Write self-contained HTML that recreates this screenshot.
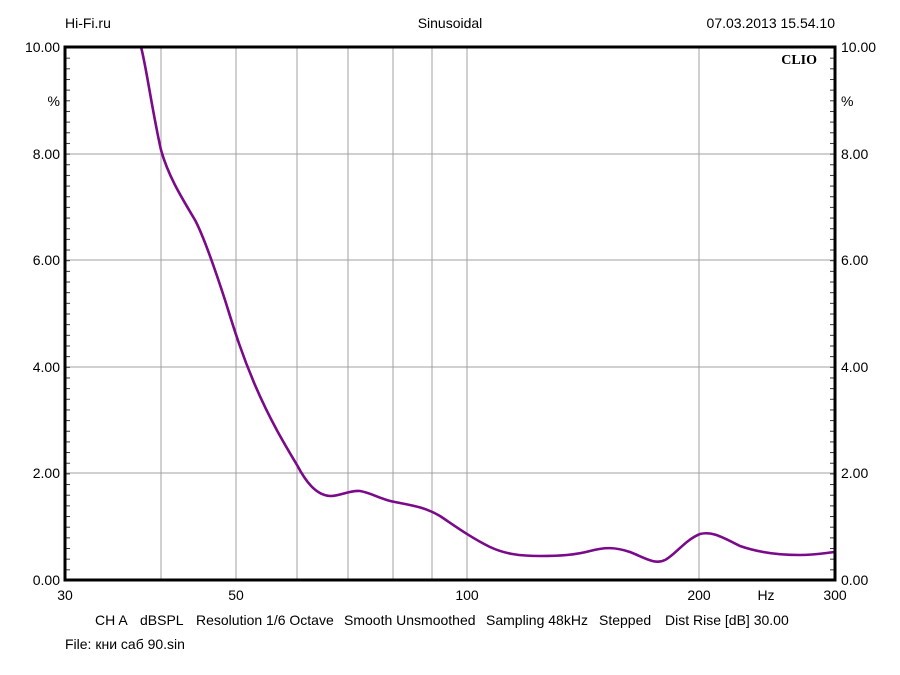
<!DOCTYPE html>
<html><head><style>
body{margin:0;background:#fff;}
svg{display:block;font-family:"Liberation Sans",sans-serif;}
text{white-space:pre;}
</style></head><body>
<svg width="900" height="675" viewBox="0 0 900 675" xmlns="http://www.w3.org/2000/svg">
<defs>
<pattern id="tl" x="0" y="47" width="10" height="10.66" patternUnits="userSpaceOnUse">
<line x1="0" y1="0.5" x2="10" y2="0.5" stroke="#333" stroke-width="1"/>
</pattern>
</defs>
<rect width="900" height="675" fill="#fff"/>
<g stroke="#a0a0a0" stroke-width="1">
<line x1="161" y1="47" x2="161" y2="580"/>
<line x1="236" y1="47" x2="236" y2="580"/>
<line x1="297" y1="47" x2="297" y2="580"/>
<line x1="348" y1="47" x2="348" y2="580"/>
<line x1="393" y1="47" x2="393" y2="580"/>
<line x1="432" y1="47" x2="432" y2="580"/>
<line x1="467" y1="47" x2="467" y2="580"/>
<line x1="699" y1="47" x2="699" y2="580"/>
<line x1="65" y1="154" x2="835" y2="154"/>
<line x1="65" y1="260" x2="835" y2="260"/>
<line x1="65" y1="367" x2="835" y2="367"/>
<line x1="65" y1="473" x2="835" y2="473"/>
</g>
<rect x="66" y="47" width="4" height="533" fill="url(#tl)"/>
<rect x="830" y="47" width="4" height="533" fill="url(#tl)"/>
<path d="M141,47 C146,65 152,110 161,150 C168,175 180,195 195,220 C203,235 212,260 225,300 C232,322 240,350 255,385 C270,420 285,445 297,465 C305,480 315,495 330,496 C340,496 350,490 360,491 C372,493 382,500 395,502 C410,505 425,507 440,516 C455,526 470,537 490,547 C505,554 520,556 540,556 C560,556 575,555 590,551 C605,547 615,547 630,552 C645,558 655,565 665,560 C675,555 685,540 700,534 C712,531 722,537 740,546 C760,553 780,555 800,555 C815,555 825,553 835,552" fill="none" stroke="#7a0a8a" stroke-width="2.6"/>
<rect x="65" y="47" width="770" height="533" fill="none" stroke="#000" stroke-width="3"/>
<g font-size="14" fill="#000">
<text x="65" y="28">Hi-Fi.ru</text>
<text x="450" y="28" text-anchor="middle">Sinusoidal</text>
<text x="835" y="28" text-anchor="end">07.03.2013 15.54.10</text>
<text x="60" y="52" text-anchor="end">10.00</text>
<text x="60" y="106" text-anchor="end">%</text>
<text x="60" y="159" text-anchor="end">8.00</text>
<text x="60" y="265" text-anchor="end">6.00</text>
<text x="60" y="372" text-anchor="end">4.00</text>
<text x="60" y="478" text-anchor="end">2.00</text>
<text x="60" y="585" text-anchor="end">0.00</text>
<text x="841" y="52">10.00</text>
<text x="841" y="106">%</text>
<text x="841" y="159">8.00</text>
<text x="841" y="265">6.00</text>
<text x="841" y="372">4.00</text>
<text x="841" y="478">2.00</text>
<text x="841" y="585">0.00</text>
<text x="65" y="600" text-anchor="middle">30</text>
<text x="236" y="600" text-anchor="middle">50</text>
<text x="467" y="600" text-anchor="middle">100</text>
<text x="699" y="600" text-anchor="middle">200</text>
<text x="766" y="600" text-anchor="middle">Hz</text>
<text x="835" y="600" text-anchor="middle">300</text>
<text x="95" y="625">CH A</text>
<text x="140" y="625">dBSPL</text>
<text x="196" y="625">Resolution 1/6 Octave</text>
<text x="344" y="625">Smooth Unsmoothed</text>
<text x="486" y="625">Sampling 48kHz</text>
<text x="599" y="625">Stepped</text>
<text x="665" y="625">Dist Rise [dB] 30.00</text>
<text x="65" y="649">File: кни саб 90.sin</text>
</g>
<text x="817" y="64" text-anchor="end" font-family="'Liberation Serif',serif" font-weight="bold" font-size="14">CLIO</text>
</svg>
</body></html>
